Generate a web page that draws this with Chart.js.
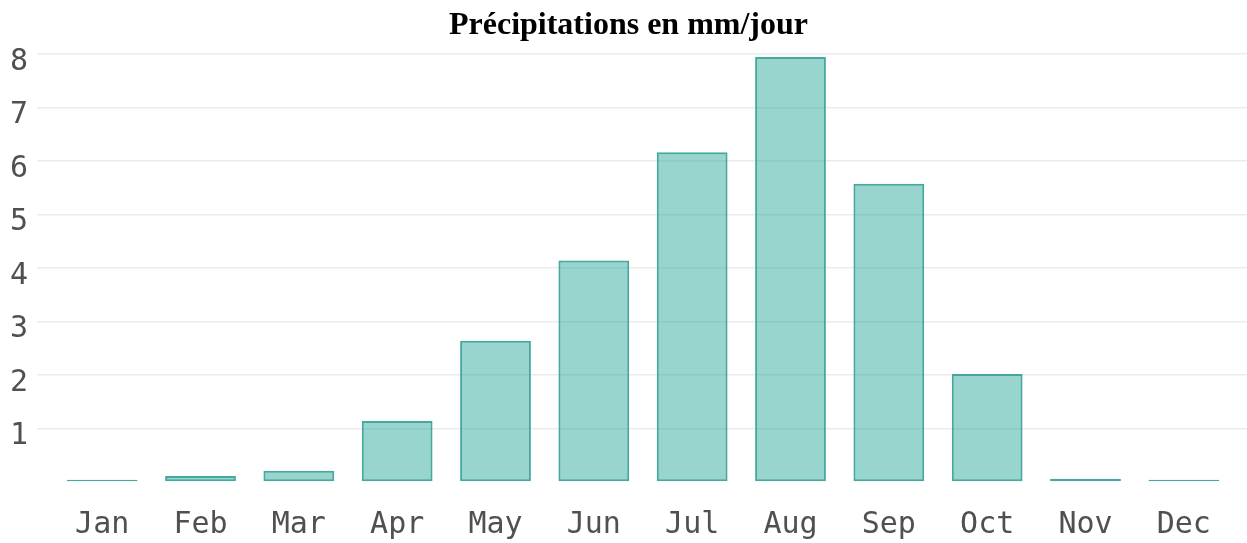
<!DOCTYPE html>
<html>
<head>
<meta charset="utf-8">
<script src="https://cdn.jsdelivr.net/npm/chart.js@4/dist/chart.umd.min.js"></script>
<style>
  html, body { margin: 0; padding: 0; background: #ffffff; }
  #wrap { position: relative; width: 1247px; height: 543px; }
</style>
</head>
<body>
<div id="wrap"><canvas id="c" width="1247" height="543"></canvas></div>
<script>
const titleText = "Précipitations en mm/jour";
const months = ["Jan", "Feb", "Mar", "Apr", "May", "Jun", "Jul", "Aug", "Sep", "Oct", "Nov", "Dec"];
const precipitation = [0.04, 0.11, 0.21, 1.14, 2.64, 4.14, 6.16, 7.94, 5.57, 2.02, 0.06, 0.04];
const yTicks = [1, 2, 3, 4, 5, 6, 7, 8];

const tickFont = { family: "'DejaVu Sans Mono', monospace", size: 30 };
const gridColor = '#ebebeb';

new Chart(document.getElementById('c'), {
  type: 'bar',
  data: {
    labels: months,
    datasets: [{
      data: precipitation,
      backgroundColor: 'rgba(38,166,154,0.47)',
      borderColor: 'rgba(50,160,148,0.9)',
      borderWidth: 2,
      borderSkipped: false,
      categoryPercentage: 1,
      barPercentage: 0.72
    }]
  },
  options: {
    responsive: false,
    animation: false,
    devicePixelRatio: 1,
    layout: { padding: { left: 10, right: 0, top: 0, bottom: 0 } },
    plugins: {
      legend: { display: false },
      tooltip: { enabled: false },
      title: {
        display: true,
        text: titleText,
        color: '#000000',
        font: { family: "'Liberation Serif', 'Times New Roman', serif", size: 32, weight: 'bold', lineHeight: 1.15 },
        padding: { top: 7, bottom: 10 }
      }
    },
    scales: {
      x: {
        grid: { display: false, drawTicks: false },
        border: { display: false },
        ticks: { color: '#505050', font: tickFont, padding: 25, maxRotation: 0, autoSkip: false },
        afterFit: s => { s.height = 61; }
      },
      y: {
        min: 0, max: 8,
        afterBuildTicks: s => { s.ticks = [0].concat(yTicks).map(v => ({ value: v })); },
        grid: {
          color: ctx => ctx.tick && ctx.tick.value === 0 ? 'rgba(0,0,0,0)' : gridColor,
          lineWidth: 1.5,
          drawTicks: true,
          tickLength: 16
        },
        border: { display: false },
        ticks: {
          color: '#505050', font: tickFont, padding: 9, labelOffset: 8,
          callback: v => v === 0 ? '' : String(v)
        },
        afterFit: s => { s.width = 43; }
      },
      y2: {
        position: 'right',
        min: 0, max: 8,
        afterBuildTicks: s => { s.ticks = [0].concat(yTicks).map(v => ({ value: v })); },
        grid: {
          drawOnChartArea: false,
          color: ctx => ctx.tick && ctx.tick.value === 0 ? 'rgba(0,0,0,0)' : gridColor,
          lineWidth: 1.5,
          drawTicks: true,
          tickLength: 14
        },
        border: { display: false },
        ticks: { display: false },
        afterFit: s => { s.width = 14; }
      }
    }
  }
});
</script>
</body>
</html>
